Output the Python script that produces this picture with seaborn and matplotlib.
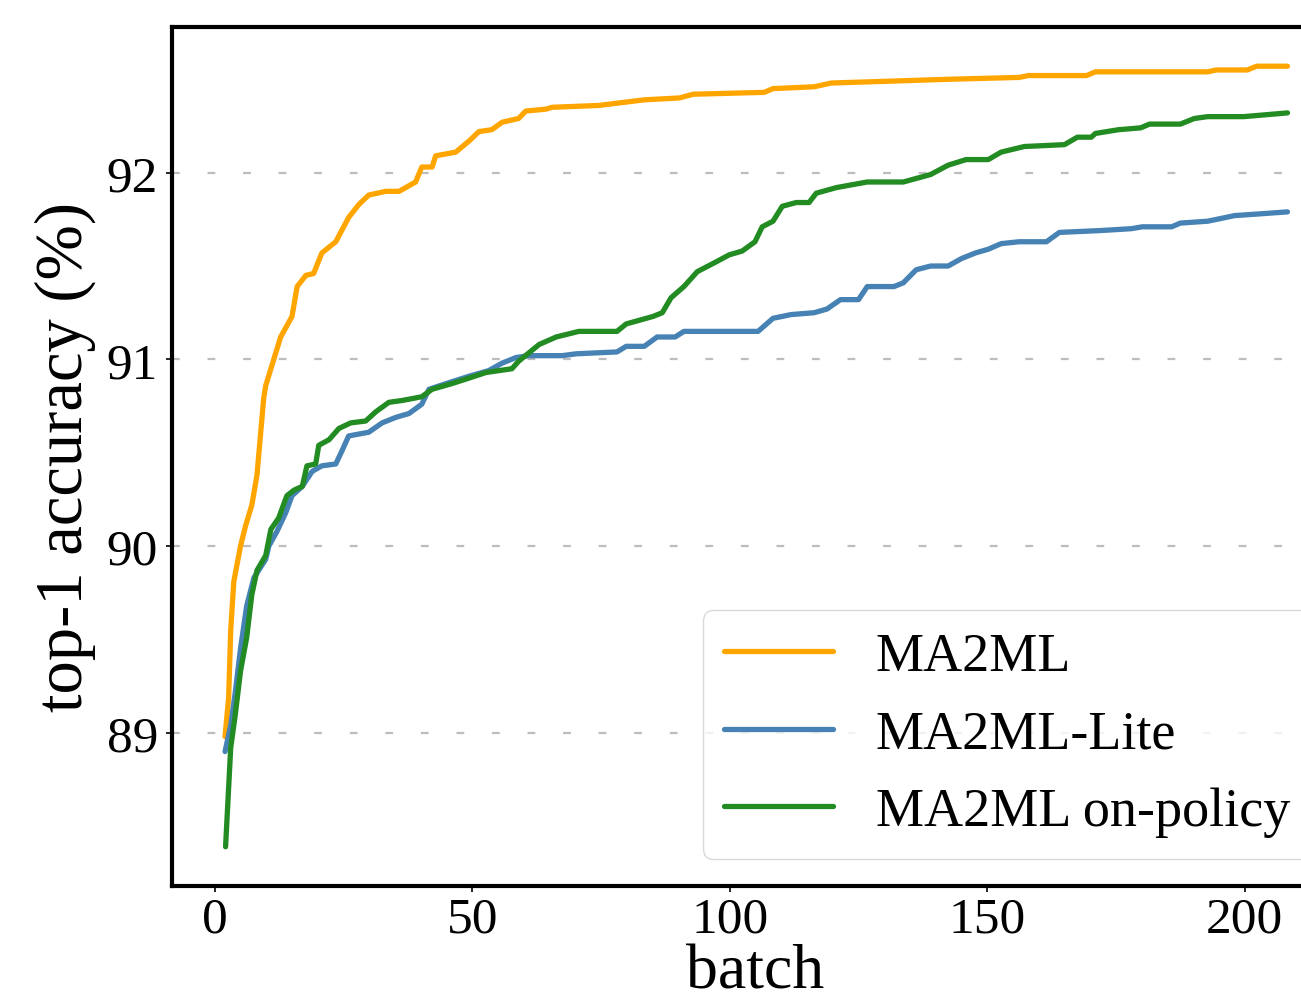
import matplotlib
matplotlib.use("Agg")
import matplotlib.pyplot as plt
import seaborn as sns
import pandas as pd

# ---- data ----
ma2ml_x = [2, 2.7, 3.1, 3.7, 5, 6, 7.2, 8.2, 9.5, 9.9, 12.8, 15, 16, 17.7, 19.2, 20.8, 23.5, 26, 28,
           29.9, 33.2, 35.8, 39, 40.2, 42.2, 42.9, 46.8, 49.4, 51.3, 53.8, 55.8, 59, 60.4, 64.3, 65.5,
           74.6, 83.4, 90.2, 92.9, 106.7, 108.4, 116.4, 119.7, 131.2, 142.4, 156.2, 158, 169.3, 171,
           192.8, 194.5, 200.5, 202.3, 208.3]
ma2ml_y = [88.98, 89.19, 89.55, 89.81, 90.0, 90.11, 90.22, 90.38, 90.79, 90.86, 91.12, 91.23, 91.39,
           91.45, 91.46, 91.57, 91.63, 91.76, 91.83, 91.88, 91.90, 91.90, 91.95, 92.03, 92.03, 92.09,
           92.11, 92.17, 92.22, 92.23, 92.27, 92.29, 92.33, 92.34, 92.35, 92.36, 92.39, 92.40, 92.42,
           92.43, 92.45, 92.46, 92.48, 92.49, 92.50, 92.51, 92.52, 92.52, 92.54, 92.54, 92.55, 92.55,
           92.57, 92.57]

lite_x = [2, 3.1, 4, 5, 6.2, 7.6, 9.9, 10.5, 12.1, 13.8, 15, 17, 18.9, 20.8, 23.5, 24.7, 26, 29.9,
          32.5, 35.2, 37.7, 40.2, 41.6, 46, 49.4, 53.2, 55.8, 58.5, 61, 67.4, 70.2, 78.1, 79.9, 83.4,
          85.9, 89.4, 91.1, 105.5, 108.4, 111.9, 116.4, 118.9, 121.5, 125, 126.7, 131.9, 133.7, 136.2,
          139, 142.4, 145, 147.7, 150.2, 152.7, 156.2, 161.5, 164, 172, 178, 180.1, 185.8, 187.5,
          192.8, 196.3, 198, 203.3, 208.3]
lite_y = [88.90, 89.04, 89.22, 89.45, 89.68, 89.83, 89.93, 90.0, 90.08, 90.18, 90.27, 90.32, 90.40,
          90.43, 90.44, 90.51, 90.59, 90.61, 90.66, 90.69, 90.71, 90.76, 90.84, 90.88, 90.91, 90.94,
          90.98, 91.01, 91.02, 91.02, 91.03, 91.04, 91.07, 91.07, 91.12, 91.12, 91.15, 91.15, 91.22,
          91.24, 91.25, 91.27, 91.32, 91.32, 91.39, 91.39, 91.41, 91.48, 91.50, 91.50, 91.54, 91.57,
          91.59, 91.62, 91.63, 91.63, 91.68, 91.69, 91.70, 91.71, 91.71, 91.73, 91.74, 91.76, 91.77,
          91.78, 91.79]

onp_x = [2.1, 3.1, 4, 5, 6.2, 7.2, 8.2, 9.9, 10.9, 12.4, 14, 15.4, 17, 17.9, 19.6, 20.2, 22.2, 24.1,
         26.4, 29.3, 31.3, 33.8, 36.4, 40.2, 42.2, 46, 49.4, 52.7, 57.7, 59, 63, 66.3, 70.7, 78.1,
         79.9, 85.1, 86.9, 88.6, 91.1, 93.7, 97.2, 99.9, 102.4, 104.9, 106.3, 108.4, 110.2, 112.9,
         115.4, 116.8, 120.7, 126.7, 133.7, 139, 142.4, 145.9, 150.2, 152.7, 157.2, 165, 167.5,
         170.2, 171, 175.5, 179.8, 181.5, 187.5, 190.2, 192.8, 199.8, 208.3]
onp_y = [88.39, 88.92, 89.10, 89.33, 89.51, 89.74, 89.87, 89.95, 90.09, 90.15, 90.27, 90.30, 90.32,
         90.43, 90.44, 90.54, 90.57, 90.63, 90.66, 90.67, 90.72, 90.77, 90.78, 90.80, 90.84, 90.87,
         90.90, 90.93, 90.95, 90.99, 91.08, 91.12, 91.15, 91.15, 91.19, 91.23, 91.25, 91.33, 91.39,
         91.47, 91.52, 91.56, 91.58, 91.63, 91.71, 91.74, 91.82, 91.84, 91.84, 91.89, 91.92, 91.95,
         91.95, 91.99, 92.04, 92.07, 92.07, 92.11, 92.14, 92.15, 92.19, 92.19, 92.21, 92.23, 92.24,
         92.26, 92.26, 92.29, 92.30, 92.30, 92.32]

labels = ["MA2ML", "MA2ML-Lite", "MA2ML on-policy"]
colors = ["orange", "steelblue", "forestgreen"]
y_ticks = [89, 90, 91, 92]
x_ticks = [0, 50, 100, 150, 200]

# ---- build long table ----
frames = []
for lab, xs, ys in zip(labels, [ma2ml_x, lite_x, onp_x], [ma2ml_y, lite_y, onp_y]):
    frames.append(pd.DataFrame({"batch": xs, "acc": ys, "method": lab}))
df = pd.concat(frames, ignore_index=True)

sns.set_style("white")
plt.rcParams["font.family"] = ["Liberation Serif", "DejaVu Serif"]
plt.rcParams["text.color"] = "black"
plt.rcParams["axes.labelcolor"] = "black"
plt.rcParams["xtick.color"] = "black"
plt.rcParams["ytick.color"] = "black"

fig = plt.figure(figsize=(13.01, 10.04), dpi=100)
ax = fig.add_axes([172 / 1301, 117 / 1004, (1339 - 172) / 1301, 859 / 1004])

sns.lineplot(data=df, x="batch", y="acc", hue="method", hue_order=labels,
             palette=dict(zip(labels, colors)), linewidth=3.8, estimator=None,
             sort=False, ax=ax)

ax.set_xlim(-8.3, 218.3)
ax.set_ylim(88.18, 92.78)
ax.set_xticks(x_ticks)
ax.set_yticks(y_ticks)
ax.yaxis.grid(True, color="#bdbdbd", linestyle=(0, (3.5, 12.5)), linewidth=1.6)
ax.xaxis.grid(False)

for side in ["left", "bottom", "top", "right"]:
    ax.spines[side].set_visible(True)
    ax.spines[side].set_color("black")
    ax.spines[side].set_linewidth(3.0)

ax.tick_params(axis="both", which="major", labelsize=37, length=4, width=1.2,
               color="black", labelcolor="black", bottom=True, left=True)
ax.tick_params(axis="x", pad=3)
ax.tick_params(axis="y", pad=6)
ax.set_ylabel("top-1 accuracy (%)", fontsize=48, labelpad=8, color="black")

handles, _ = ax.get_legend_handles_labels()
leg = ax.legend(handles=handles, labels=labels, loc="lower right", fontsize=39,
                frameon=True, framealpha=0.8, edgecolor="#d0d0d0")
for line in leg.get_lines():
    line.set_linewidth(3.8)
for t in leg.get_texts():
    t.set_color("black")

# x label: place it at the bottom edge, as large as fits below the tick labels
fig.canvas.draw()
renderer = fig.canvas.get_renderer()
tick_bottom = min(t.get_window_extent(renderer).y0 for t in ax.get_xticklabels() if t.get_text())
xl = ax.set_xlabel("batch", color="black")
xl.set_va("bottom")
y_ax = ax.transAxes.inverted().transform((0, 1))[1]
ax.xaxis.set_label_coords(0.5, y_ax)
for fs in range(47, 30, -1):
    xl.set_fontsize(fs)
    h = xl.get_window_extent(renderer).height
    if h <= tick_bottom - 2:
        break

fig.savefig("out.png", dpi=100)
